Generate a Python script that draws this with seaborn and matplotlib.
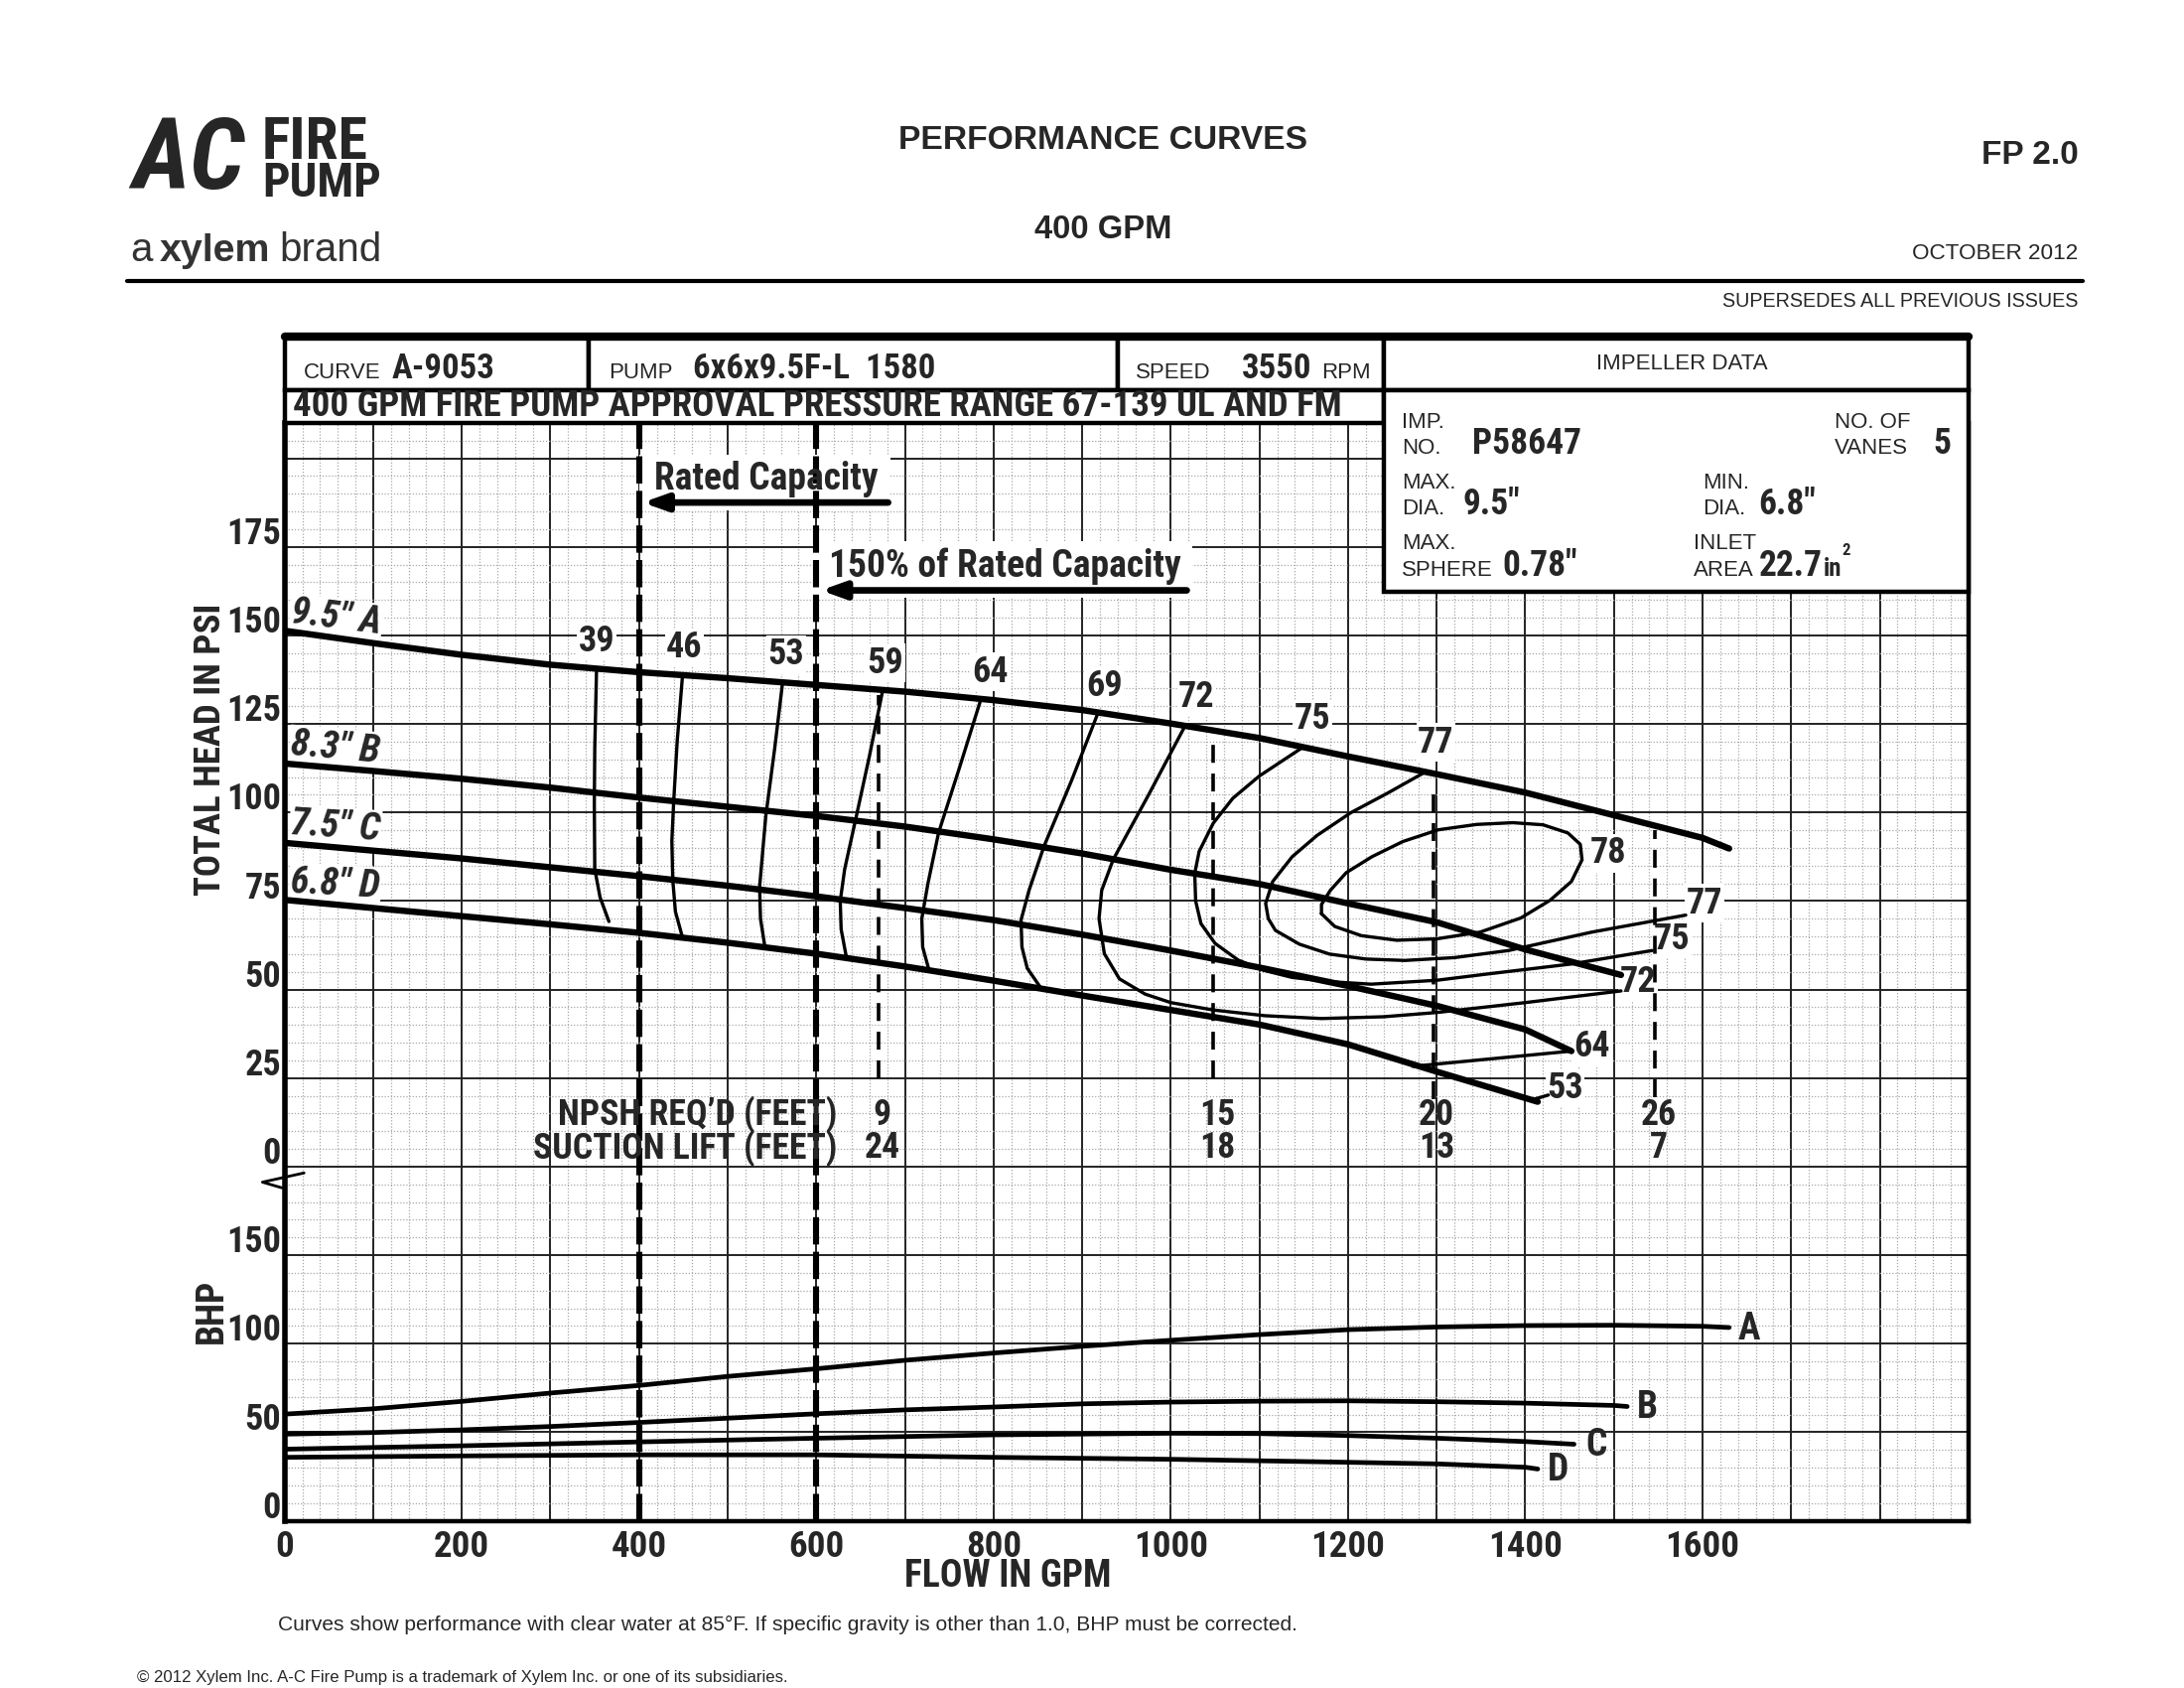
import numpy as np
import seaborn as sns
import matplotlib.pyplot as plt
from matplotlib import font_manager
from matplotlib.patches import Rectangle

# head-capacity curves (gpm, psi) for the four impeller trims
flow_a = [0, 100, 200, 300, 400, 500, 600, 700, 800, 900, 1000, 1100, 1200, 1300, 1400, 1500, 1600, 1630]
head_a = [151.3, 147.8, 144.5, 141.7, 139.6, 137.9, 136.0, 134.1, 131.7, 128.9, 125.1, 121.0, 115.8, 110.8, 105.6, 99.2, 92.8, 89.8]
flow_b = [0, 100, 200, 300, 400, 500, 600, 700, 800, 900, 1000, 1100, 1200, 1300, 1400, 1508]
head_b = [113.8, 111.7, 109.5, 107.0, 104.2, 101.6, 99.0, 96.0, 92.4, 88.4, 83.8, 79.8, 74.3, 69.0, 61.3, 54.1]
flow_c = [0, 100, 200, 300, 400, 500, 600, 700, 800, 900, 1000, 1100, 1200, 1300, 1400, 1452]
head_c = [91.4, 89.2, 87.0, 84.5, 82.0, 79.3, 76.3, 73.0, 69.6, 65.5, 61.0, 56.2, 51.0, 45.4, 38.7, 32.6]
flow_d = [0, 100, 200, 300, 400, 500, 600, 700, 800, 900, 1000, 1100, 1200, 1300, 1414]
head_d = [75.3, 73.0, 70.7, 68.4, 66.0, 63.2, 60.1, 56.5, 52.5, 48.3, 44.2, 40.1, 34.5, 26.8, 18.3]
trim_names = ['9.5" A', '8.3" B', '7.5" C', '6.8" D']

# brake horsepower curves
bhp_flow_a = [0, 100, 200, 300, 400, 500, 600, 700, 800, 900, 1000, 1100, 1200, 1300, 1400, 1500, 1600, 1630]
bhp_a = [60.2, 63.2, 67.4, 72.1, 76.4, 81.5, 85.8, 90.6, 94.7, 98.5, 101.9, 105.1, 107.9, 109.4, 110.2, 110.4, 109.8, 109.1]
bhp_flow_b = [0, 100, 200, 300, 400, 500, 600, 700, 800, 900, 1000, 1100, 1200, 1300, 1400, 1500, 1515]
bhp_b = [48.9, 49.8, 51.3, 53.2, 55.5, 57.9, 60.4, 62.6, 64.2, 66.0, 67.0, 67.5, 67.7, 67.2, 66.4, 65.1, 64.5]
bhp_flow_c = [0, 200, 400, 600, 800, 1000, 1100, 1200, 1300, 1400, 1455]
bhp_c = [40.4, 42.3, 44.5, 46.6, 48.5, 49.4, 49.2, 48.1, 46.6, 44.7, 43.2]
bhp_flow_d = [0, 200, 400, 600, 800, 1000, 1200, 1300, 1400, 1414]
bhp_d = [35.8, 36.6, 37.2, 37.2, 35.8, 34.7, 33.0, 32.1, 30.2, 29.2]
bhp_names = ['A', 'B', 'C', 'D']

# efficiency contours (gpm, psi)
eff_39 = ([352, 350, 349.5, 350, 356, 366], [140.3, 118, 102.5, 84, 76, 69.2])
eff_46 = ([449, 443, 439, 437, 438, 441, 449], [138.6, 120, 102.8, 92, 81, 72, 64.7])
eff_53 = ([562, 553, 543, 536, 537, 542], [136.8, 118, 99, 79, 70, 62])
eff_59 = ([675, 660, 644, 632, 627, 628, 634], [134.6, 116, 97.6, 84, 75, 67, 59])
eff_64 = ([786, 762, 738, 726, 719, 720, 727], [132.2, 113, 94.3, 80, 70, 62, 55.6])
eff_69 = ([918, 888, 857, 840, 831, 832, 838, 854], [128.2, 109, 90.5, 78, 69.6, 62, 56, 50.2])
eff_72 = ([1016, 975, 935, 922, 919, 925, 942, 971, 1000, 1048, 1106, 1170, 1240, 1300, 1400, 1508],
          [124.4, 105, 86.7, 78, 70, 60.1, 53, 48.7, 46.3, 44.2, 42.6, 41.8, 42.3, 43.5, 46.3, 49.6])
eff_75 = ([1149, 1100, 1070, 1048, 1032, 1027, 1028, 1034, 1050, 1076, 1105, 1137, 1180, 1226, 1300, 1358, 1452, 1543],
          [118.4, 110.3, 104, 97, 89, 82.8, 75, 68.6, 63, 58.3, 55.4, 53.4, 52.2, 51.5, 52.6, 54.4, 57.2, 61])
eff_77 = ([1287, 1245, 1203, 1165, 1137, 1115, 1107, 1110, 1118, 1145, 1179, 1220, 1264, 1320, 1381, 1475, 1581],
          [111.4, 105.5, 99.9, 93.5, 87.5, 80.5, 74.3, 70, 66.7, 62.8, 60, 58.6, 58.2, 59, 61, 66.2, 71])
eff_78 = ([1170, 1185, 1215, 1255, 1300, 1349, 1395, 1428, 1452, 1464, 1462, 1448, 1420, 1386, 1345, 1302, 1262, 1227, 1198, 1180, 1170, 1170],
          [71.4, 67.8, 65.2, 63.9, 64.3, 66.2, 70.2, 75.2, 80.5, 86.6, 91, 94.2, 96.5, 97.1, 96.6, 95.1, 91.8, 87.5, 83, 78, 74, 71.4])
eff_64_end = ([1273, 1452], [28.3, 32.6])
eff_53_end = ([1407, 1426], [18.8, 20.2])
eff_contours = [eff_39, eff_46, eff_53, eff_59, eff_64, eff_69, eff_72, eff_75, eff_77, eff_78, eff_64_end, eff_53_end]

eff_labels = ['39', '46', '53', '59', '64', '69', '72', '75', '77', '78', '77', '75', '72', '64', '53']
eff_label_flow = [352, 451, 566, 678, 796, 925, 1029, 1160, 1299, 1494, 1602, 1565, 1527, 1475, 1445]
eff_label_head = [148.4, 146.5, 144.6, 142.2, 139.7, 135.6, 132.7, 126.4, 119.8, 88.5, 74.3, 64.3, 52.0, 34.0, 22.1]

# NPSH points
npsh_flow = [670, 1048, 1296, 1546]
npsh_top = [133, 121, 107.5, 95]
npsh_bottom = [25, 25, 19, 19.5]
npsh_req = ['9', '15', '20', '26']
suction_lift = ['24', '18', '13', '7']

rated_flow = [400, 600]
head_ticks = [0, 25, 50, 75, 100, 125, 150, 175]
bhp_ticks = [0, 50, 100, 150]
flow_ticks = [0, 200, 400, 600, 800, 1000, 1200, 1400, 1600]

sns.set_style('white')
plt.rcParams['font.family'] = ['Liberation Sans', 'DejaVu Sans']

# condensed bold face for the chart lettering, if one is installed
names = {f.name for f in font_manager.fontManager.ttflist}
NARROW, K = 'Liberation Sans', 0.86
for cand in ['Liberation Sans Narrow', 'Arial Narrow', 'Roboto Condensed', 'Open Sans Condensed',
             'Noto Sans Condensed', 'DejaVu Sans Condensed']:
    if cand in names:
        NARROW, K = cand, 1.0
        break
NB = dict(family=NARROW, weight='bold')


def fs(x):
    return round(x * K, 2)


fig = plt.figure(figsize=(11, 8.5), dpi=200)
fig.patch.set_facecolor('white')
ax = fig.add_axes([0.1303, 0.0991, 0.7710, 0.6504])

# grid paper
ax.set_xticks(np.arange(0, 1901, 100))
ax.set_xticks(np.arange(0, 1901, 20), minor=True)
ax.set_yticks(np.arange(-100, 211, 25))
ax.set_yticks(np.arange(-100, 211, 5), minor=True)
ax.tick_params(which='both', length=0, labelbottom=False, labelleft=False)
ax.grid(which='major', color='#222222', lw=0.7)
ax.grid(which='minor', color='#a8a8a8', lw=0.45, ls=(0, (1, 1.5)))
ax.set_axisbelow(True)
for s in ['bottom', 'right']:
    ax.spines[s].set_linewidth(1.6)
ax.spines['left'].set_linewidth(2.0)
ax.spines['top'].set_visible(False)
for s in ax.spines.values():
    s.set_color('black')

# head curves
for (fl, hd) in [(flow_a, head_a), (flow_b, head_b), (flow_c, head_c), (flow_d, head_d)]:
    sns.lineplot(x=fl, y=hd, ax=ax, color='black', lw=2.3, sort=False, estimator=None, zorder=3)
label_start = [153.6, 116.4, 93.9, 77.4]
label_rot = [-7, -5, -4, -3]
for name, y0, rot in zip(trim_names, label_start, label_rot):
    ax.text(6, y0, name, rotation=rot, rotation_mode='anchor', ha='left', va='baseline',
            style='italic', fontsize=fs(13.8), zorder=2.5,
            bbox=dict(facecolor='white', edgecolor='none', pad=0.4), **NB)

# efficiency contours
for fl, hd in eff_contours:
    sns.lineplot(x=fl, y=hd, ax=ax, color='black', lw=1.2, sort=False, estimator=None, zorder=3)
for lab, fx, hy in zip(eff_labels, eff_label_flow, eff_label_head):
    ax.text(fx, hy, lab, ha='center', va='center', fontsize=fs(13), zorder=2.5,
            bbox=dict(facecolor='white', edgecolor='none', pad=0.5), **NB)

# rated capacity lines
for g in rated_flow:
    ax.axvline(g, color='black', lw=2.2, dashes=(4.5, 1.2), zorder=4)

# NPSH dashed markers and the two-line table under them
ax.vlines(npsh_flow, npsh_bottom, npsh_top, colors='black', lw=1.3,
          linestyles=(0, (5, 3)), zorder=3)
ax.text(624, 9.95, 'NPSH REQ\u2019D (FEET)\nSUCTION LIFT (FEET)', ha='right', va='center',
        multialignment='right', linespacing=0.9, fontsize=fs(12.9), zorder=5, **NB)
for g, n, s in zip(npsh_flow, npsh_req, suction_lift):
    ax.text(g + 4, 9.95, n + '\n' + s, ha='center', va='center', multialignment='center',
            linespacing=0.9, fontsize=fs(12.9), zorder=5, **NB)

# rated capacity annotations
ax.add_patch(Rectangle((400, 185.2), 284, 15.8, facecolor='white', edgecolor='none', zorder=1))
ax.text(417, 194.1, 'Rated Capacity', ha='left', va='center', fontsize=fs(13.5), zorder=5, **NB)
ax.annotate('', xy=(404, 187.5), xytext=(681, 187.5), zorder=5,
            arrowprops=dict(arrowstyle='-|>,head_length=0.7,head_width=0.25', lw=2.4,
                            color='black', shrinkA=0, shrinkB=0))
ax.add_patch(Rectangle((598, 160.6), 426, 16.0, facecolor='white', edgecolor='none', zorder=1))
ax.text(614, 169.6, '150% of Rated Capacity', ha='left', va='center', fontsize=fs(13.5), zorder=5, **NB)
ax.annotate('', xy=(605, 162.7), xytext=(1018, 162.7), zorder=5,
            arrowprops=dict(arrowstyle='-|>,head_length=0.7,head_width=0.25', lw=2.4,
                            color='black', shrinkA=0, shrinkB=0))

# axis break mark
ax.plot([22, -25, -3], [-1.8, -4.4, -6], color='black', lw=1.0, clip_on=False, zorder=6)

# tick labels
for v in head_ticks:
    ax.text(-4, v + 0.8, str(v), ha='right', va='baseline', fontsize=fs(13), clip_on=False, **NB)
for g in flow_ticks:
    ax.text(g, -107.3, str(g), ha='center', va='center', fontsize=fs(13.3), clip_on=False, **NB)
ax.text(-84, 117.8, 'TOTAL HEAD IN PSI', rotation=90, ha='center', va='center', fontsize=fs(13.3), **NB)
ax.text(-82, -40.7, 'BHP', rotation=90, ha='center', va='center', fontsize=fs(13.5), **NB)
ax.text(816, -115.6, 'FLOW IN GPM', ha='center', va='center', fontsize=fs(13.5), **NB)

# header table
row1_lo, row1_hi, row2_lo = 219.2, 234.3, 210.0
for x0, x1 in [(0, 343.5), (343.5, 939.7), (939.7, 1240.3), (1240.3, 1900)]:
    ax.add_patch(Rectangle((x0, row1_lo), x1 - x0, row1_hi - row1_lo, facecolor='white',
                           edgecolor='black', lw=1.6, clip_on=False, zorder=6))
ax.add_patch(Rectangle((0, row2_lo), 1240.3, row1_lo - row2_lo, facecolor='white',
                       edgecolor='black', lw=1.6, clip_on=False, zorder=6))
ax.add_patch(Rectangle((1240.3, 162.2), 659.7, row1_lo - 162.2, facecolor='white',
                       edgecolor='black', lw=1.6, clip_on=False, zorder=6))
ax.plot([0, 1900], [row1_hi, row1_hi], color='black', lw=3.0, clip_on=False, zorder=7)

small = dict(fontsize=8, zorder=8, va='baseline', ha='left')
big = dict(fontsize=fs(12.5), zorder=8, va='baseline', ha='left', **NB)
imp = dict(fontsize=fs(12.8), zorder=8, va='baseline', ha='left', **NB)
ax.text(22, 222.6, 'CURVE', **small)
ax.text(121, 222.6, 'A-9053', **big)
ax.text(366, 222.6, 'PUMP', **small)
ax.text(461, 222.6, '6x6x9.5F-L  1580', **big)
ax.text(960, 222.6, 'SPEED', **small)
ax.text(1080, 222.6, '3550', **big)
ax.text(1170, 222.6, 'RPM', **small)
ax.text(1577, 226.7, 'IMPELLER DATA', ha='center', va='center', fontsize=8, zorder=8)
ax.text(9.5, 214.6, '400 GPM FIRE PUMP APPROVAL PRESSURE RANGE 67-139 UL AND FM',
        ha='left', va='center', fontsize=fs(13.3), zorder=8, **NB)

ax.text(1261, 208.6, 'IMP.', **small)
ax.text(1261, 201.4, 'NO.', **small)
ax.text(1340, 201.4, 'P58647', **imp)
ax.text(1749, 208.6, 'NO. OF', **small)
ax.text(1749, 201.4, 'VANES', **small)
ax.text(1860, 201.4, '5', **imp)
ax.text(1261, 191.5, 'MAX.', **small)
ax.text(1261, 184.3, 'DIA.', **small)
ax.text(1329, 184.3, '9.5"', **imp)
ax.text(1600, 191.5, 'MIN.', **small)
ax.text(1600, 184.3, 'DIA.', **small)
ax.text(1663, 184.3, '6.8"', **imp)
ax.text(1261, 174.4, 'MAX.', **small)
ax.text(1261, 166.8, 'SPHERE', **small)
ax.text(1374, 166.8, '0.78"', **imp)
ax.text(1590, 174.4, 'INLET', **small)
ax.text(1590, 166.8, 'AREA', **small)
ax.text(1663, 166.8, '22.7', **imp)
ax.text(1736, 166.8, 'in', fontsize=fs(9), zorder=8, va='baseline', ha='left', **NB)
ax.text(1757, 172.8, '2', fontsize=fs(6), zorder=8, va='baseline', ha='left', **NB)

ax.set_xlim(0, 1900)
ax.set_ylim(-100, 210)
ax.set_xlabel('')
ax.set_ylabel('')

# BHP on a twin scale sharing the same grid
ax2 = ax.twinx()
for (fl, bp) in [(bhp_flow_a, bhp_a), (bhp_flow_b, bhp_b), (bhp_flow_c, bhp_c), (bhp_flow_d, bhp_d)]:
    sns.lineplot(x=fl, y=bp, ax=ax2, color='black', lw=1.7, sort=False, estimator=None)
for name, fl, bp, dx in zip(bhp_names, [bhp_flow_a, bhp_flow_b, bhp_flow_c, bhp_flow_d],
                            [bhp_a, bhp_b, bhp_c, bhp_d], [22, 23, 25, 23]):
    ax2.text(fl[-1] + dx, bp[-1] - 0.6, name, ha='center', va='center', fontsize=fs(13.5), **NB)
for b in bhp_ticks:
    ax2.text(-4, b + 1.6, str(b), ha='right', va='baseline', fontsize=fs(13), clip_on=False, **NB)
ax2.set_ylim(0, 620)
ax2.set_xlim(0, 1900)
ax2.axis('off')

# page header
fig.text(0.5052, 0.9165, 'PERFORMANCE CURVES', ha='center', va='center', fontsize=12.1, weight='bold')
fig.text(0.5052, 0.8639, '400 GPM', ha='center', va='center', fontsize=11.8, weight='bold')
fig.text(0.9516, 0.9082, 'FP 2.0', ha='right', va='center', fontsize=12, weight='bold')
fig.text(0.9516, 0.8497, 'OCTOBER 2012', ha='right', va='center', fontsize=8.1)
fig.text(0.9516, 0.8213, 'SUPERSEDES ALL PREVIOUS ISSUES', ha='right', va='center', fontsize=7.1)
fig.add_artist(plt.Line2D([0.0581, 0.9535], [0.8338, 0.8338], color='black', lw=1.5))

# logo
fig.text(0.0605, 0.904, 'AC', ha='left', va='center', fontsize=fs(36), style='italic', **NB)
fig.text(0.1200, 0.9150, 'FIRE', ha='left', va='center', fontsize=fs(21.5), **NB)
fig.text(0.1200, 0.8912, 'PUMP', ha='left', va='center', fontsize=fs(17.5), **NB)
fig.text(0.0595, 0.8455, 'a', ha='left', va='baseline', fontsize=14.5, color='#333333')
fig.text(0.0732, 0.8455, 'xylem', ha='left', va='baseline', fontsize=14.2, weight='bold', color='#333333')
fig.text(0.1278, 0.8455, 'brand', ha='left', va='baseline', fontsize=14.5, color='#333333')

# footnotes
fig.text(0.1271, 0.0373, 'Curves show performance with clear water at 85\u00b0F. If specific gravity is '
         'other than 1.0, BHP must be corrected.', ha='left', va='center', fontsize=7.55)
fig.text(0.0626, 0.0064, '\u00a9 2012 Xylem Inc. A-C Fire Pump is a trademark of Xylem Inc. or one of '
         'its subsidiaries.', ha='left', va='center', fontsize=6.05)

fig.savefig('out.png', dpi=200, facecolor='white')
